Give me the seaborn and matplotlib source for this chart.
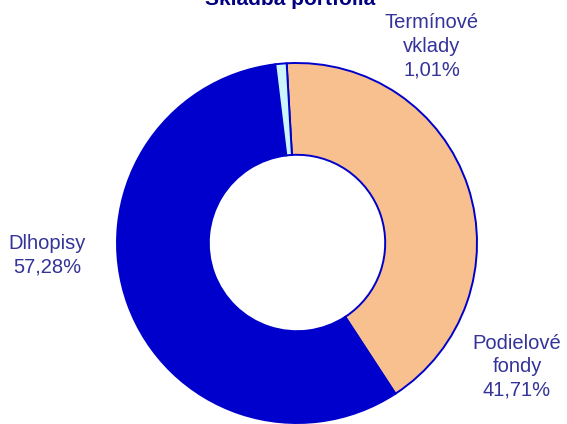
import matplotlib
matplotlib.use("Agg")
import matplotlib.pyplot as plt
import seaborn as sns

# Data
kategorie = ["Podielové\nfondy", "Dlhopisy", "Termínové\nvklady"]
podiely = [41.71, 57.28, 1.01]
popisky = ["41,71%", "57,28%", "1,01%"]
farby = ["#F9C08F", "#0000CC", "#CCF4FC"]

sns.set_theme(style="white")
plt.rcParams['font.family'] = ['Liberation Sans', 'DejaVu Sans']

fig = plt.figure(figsize=(5.67, 4.24), dpi=100)
W, H = 567, 424
cx, cy, R = 297, 243, 180
ax = fig.add_axes([(cx - R) / W, (H - cy - R) / H, 2 * R / W, 2 * R / H])

ax.pie(podiely, colors=farby, startangle=93.3, counterclock=False,
       radius=1.0, wedgeprops=dict(width=0.51, edgecolor="#0000CC", linewidth=1.4))
ax.set_xlim(-1, 1)
ax.set_ylim(-1, 1)
ax.set_axis_off()

text_farba = "#333399"
pozicie = [(517, 367), (47, 255), (432, 46)]
for nazov, pct, (px, py) in zip(kategorie, popisky, pozicie):
    fig.text(px / W, 1 - py / H, f"{nazov}\n{pct}", ha="center", va="center",
             fontsize=14.5, color=text_farba, linespacing=1.3)

# nadpis je v originali orezany hornym okrajom
fig.text(290 / W, 0.988, "Skladba portfólia", ha="center", va="baseline",
         fontsize=15, fontweight="bold", color="#000080")

fig.savefig("out.png", dpi=100)
